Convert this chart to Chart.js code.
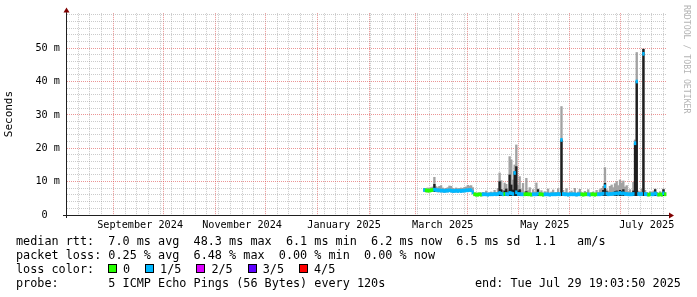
<!DOCTYPE html>
<html>
<head>
<meta charset="utf-8">
<title>SmokePing - last 360 days</title>
<script src="https://cdn.jsdelivr.net/npm/chart.js@4.4.1/dist/chart.umd.min.js"></script>
<style>
  body { margin: 0; background: #fff; }
  #wrap { position: relative; width: 697px; height: 297px; overflow: hidden; }
  #graph { position: absolute; left: 0; top: 0; }
  .txt { position: absolute; font-family: 'DejaVu Sans Mono', monospace; font-size: 11.8px; line-height: 14px; white-space: pre; color: #000; }
  .box { position: absolute; width: 7px; height: 7px; border: 1px solid #000; }
  #mark { position: absolute; left: 682px; top: 5px; font-family: 'DejaVu Sans Mono', monospace; font-size: 8.2px; line-height: 9px; color: #b4b4b4; writing-mode: vertical-rl; white-space: pre; }
</style>
</head>
<body>
<div id="wrap">
  <canvas id="graph" width="697" height="297"></canvas>
  <div id="mark">RRDTOOL / TOBI OETIKER</div>
</div>
<script>
// x axis in days counted from 1 Sep 2024 (graph = last 360 days up to 29 Jul 2025)
const monthStarts = [0, 30, 61, 91, 122, 153, 181, 212, 242, 273, 303];
const monthLabels = ['September 2024', 'November 2024', 'January 2025', 'March 2025', 'May 2025', 'July 2025'];
const labelDays = [16, 77, 138, 197, 258, 319];
const xFrom = -27.7, xTo = 331.1;

// y axis in milliseconds
const yMajor = [0, 10, 20, 30, 40, 50];
const yMajorText = ['0  ', '10 m', '20 m', '30 m', '40 m', '50 m'];
const yTop = 60.5;

// loss colours (smokeping defaults for 5 pings)
const lossLabels = ['0', '1/5', '2/5', '3/5', '4/5'];
const lossColors = ['#26ff00', '#00b8ff', '#dd00ff', '#5e00ff', '#ff0000'];

// one value per day, first one is day 186 (6 Mar 2025)
const firstDay = 186;
const rttMed = [
  7.5,7.4,7.3,7.3,7.4,7.5,7.6,7.5,7.4,7.4,
  7.3,7.3,7.2,7.3,7.3,7.4,7.3,7.2,7.2,7.3,
  7.2,7.3,7.2,7.3,7.3,7.4,7.4,7.5,7.4,6.8,
  6.2,6.1,6.1,6.2,6.1,6.2,6.2,6.2,6.1,6.2,
  6.2,6.2,6.3,6.2,6.3,6.6,6.4,6.2,6.3,6.3,
  6.2,6.6,6.5,6.3,12.6,6.8,6.3,6.3,6.2,6.2,
  6.2,6.3,6.2,6.2,6.1,6.2,6.2,6.2,6.4,6.2,
  6.2,6.1,6.2,6.2,6.2,6.1,6.2,6.2,6.2,6.2,
  6.3,6.2,22.5,6.3,6.2,6.2,6.1,6.2,6.2,6.2,
  6.2,6.1,6.2,6.2,6.2,6.1,6.2,6.2,6.2,6.1,
  6.2,6.2,6.1,6.2,6.2,6.2,6.3,6.4,8.6,6.4,
  6.2,6.3,6.3,6.4,6.4,6.5,6.4,6.6,6.4,6.5,
  6.3,6.3,6.2,6.2,6.2,6.3,21.5,40.0,6.3,6.2,
  6.3,48.3,6.3,6.2,6.1,6.2,6.2,6.2,6.5,6.2,
  6.1,6.2,6.1,6.5,6.2
];
const rttMax = [
  8.0,7.9,8.1,8.0,8.2,8.4,11.3,8.5,8.2,8.6,
  8.8,8.1,7.9,8.0,8.2,8.7,8.6,8.0,7.9,8.1,
  7.9,8.0,8.1,8.0,8.3,8.4,8.9,8.7,8.8,8.2,
  6.7,6.6,6.6,6.7,6.6,6.8,6.7,7.2,6.6,6.7,
  6.9,6.6,7.4,6.8,8.0,12.6,10.3,7.4,9.6,9.2,
  7.3,17.5,16.5,10.5,15.0,21.0,9.0,11.5,7.6,9.5,
  7.0,11.0,7.3,8.2,6.7,7.6,6.8,9.6,7.8,6.8,
  7.3,6.6,7.0,6.7,7.8,6.6,6.9,7.5,6.7,6.8,
  7.9,6.8,32.5,7.4,6.8,7.9,6.6,6.8,7.2,6.7,
  8.0,6.6,6.9,7.7,6.7,6.6,7.1,6.8,7.6,6.6,
  6.7,6.9,6.6,7.4,6.8,7.6,8.0,8.6,14.2,7.6,
  7.2,8.6,9.0,8.2,9.4,10.0,8.8,10.5,9.6,10.2,
  8.4,8.8,7.0,7.6,6.8,9.8,22.5,48.7,7.2,6.9,
  7.8,49.7,7.4,6.8,6.6,7.0,6.8,7.2,7.8,6.8,
  6.6,7.0,6.7,7.8,6.8
];
// top of the dark smoke, 0 where there is none
const rttCore = [
  0,0,0,0,0,0,9.2,0,0,0,
  0,0,0,0,0,0,0,0,0,0,
  0,0,0,0,0,0,0,0,0,0,
  0,0,0,0,0,0,0,0,0,0,
  0,0,0,0,0,10.0,7.6,0,7.2,7.8,
  0,12.0,9.0,7.5,13.0,14.5,7.2,7.6,0,0,
  0,7.0,0,0,0,0,0,0,7.6,0,
  0,0,0,0,0,0,0,0,0,0,
  0,0,22.5,0,0,0,0,0,0,0,
  0,0,0,0,0,0,0,0,0,0,
  0,0,0,0,0,0,0,7.4,9.5,7.0,
  0,0,0,0,7.0,7.2,0,7.4,7.0,7.6,
  0,0,0,0,0,7.2,21.5,40.0,0,0,
  0,49.7,0,0,0,0,0,0,7.6,0,
  0,0,0,7.6,0
];
const rttMin = [
  7.0,6.9,6.9,6.9,7.0,7.0,7.0,7.0,6.9,6.9,
  6.9,6.9,6.8,6.9,6.9,7.0,6.9,6.8,6.8,6.9,
  6.8,6.9,6.8,6.9,6.9,7.0,7.0,7.0,7.0,6.3,
  5.8,5.7,5.7,5.8,5.7,5.8,5.8,5.8,5.7,5.8,
  5.8,5.8,5.8,5.8,5.8,5.8,5.8,5.8,5.8,5.8,
  5.8,5.8,5.8,5.8,5.8,5.8,5.8,5.8,5.8,5.8,
  5.8,5.8,5.8,5.8,5.7,5.8,5.8,5.8,5.8,5.8,
  5.8,5.7,5.8,5.8,5.8,5.7,5.8,5.8,5.8,5.8,
  5.8,5.8,5.8,5.8,5.8,5.8,5.7,5.8,5.8,5.8,
  5.8,5.7,5.8,5.8,5.8,5.7,5.8,5.8,5.8,5.7,
  5.8,5.8,5.7,5.8,5.8,5.8,5.8,5.8,5.8,5.8,
  5.8,5.8,5.8,5.8,5.8,5.8,5.8,5.8,5.8,5.8,
  5.8,5.8,5.8,5.8,5.8,5.8,5.8,5.8,5.8,5.8,
  5.8,5.8,5.8,5.8,5.7,5.8,5.8,5.8,5.8,5.8,
  5.7,5.8,5.7,5.8,5.8
];
const lossIdx = [
  1,0,0,0,0,0,1,1,1,1,
  1,1,1,1,1,1,1,1,1,1,
  1,1,1,1,1,1,1,1,1,1,
  0,0,0,0,0,1,1,1,1,1,
  1,1,1,1,1,1,1,1,0,1,
  1,1,1,1,1,1,1,1,1,1,
  0,0,0,0,0,1,1,1,1,0,
  0,0,1,1,1,1,1,1,1,1,
  1,1,1,1,1,1,1,1,1,1,
  1,1,1,1,0,0,0,0,1,1,
  0,0,0,0,1,1,1,1,1,1,
  1,1,1,1,1,1,1,1,1,1,
  1,1,1,1,1,1,1,1,1,1,
  1,1,1,1,0,0,1,1,1,1,
  0,0,0,1,0
];

// legend texts
const statLines = [
  'median rtt:  7.0 ms avg  48.3 ms max  6.1 ms min  6.2 ms now  6.5 ms sd  1.1   am/s',
  'packet loss: 0.25 % avg  6.48 % max  0.00 % min  0.00 % now'
];
const probeText = 'probe:       5 ICMP Echo Pings (56 Bytes) every 120s';
const endText = 'end: Tue Jul 29 19:03:50 2025';

const days = rttMed.map((v, i) => firstDay + i);
const BAND = 0.45;

let smokeData = days.map((d, i) => ({x: d, y: [rttMin[i], rttMax[i]]}));
let coreData = [];
days.forEach((d, i) => { if (rttCore[i] > 0) coreData.push({x: d, y: [rttMin[i], rttCore[i]]}); });
let medData = days.map((d, i) => ({x: d, y: [rttMed[i] - BAND, rttMed[i] + BAND]}));
let medColors = lossIdx.map(k => lossColors[k]);

// weekly minor grid and 2 ms minor grid
let xWeeks = [];
for (let d = -21; d <= xTo; d += 7) {
  if (monthStarts.indexOf(d) == -1) xWeeks.push(d);
}
let yMinor = [];
for (let v = 2; v <= 60; v += 2) {
  if (yMajor.indexOf(v) == -1) yMinor.push(v);
}

const GRID = 'rgba(140,140,140,0.45)';
const MGRID = 'rgba(222,79,79,0.6)';
const tickFont = {family: 'DejaVu Sans Mono', size: 10.2};

// grid-only axis: draws lines at the given values, no labels, no space taken
function gridAxis(axis, min, max, values, color) {
  return {
    type: 'linear', axis: axis, position: axis == 'x' ? 'bottom' : 'left',
    min: min, max: max, offset: false,
    grid: {color: color, lineWidth: 1, drawTicks: false, offset: false},
    border: {display: false, dash: [1, 1]},
    ticks: {display: false, autoSkip: false},
    afterBuildTicks: s => { s.ticks = values.map(v => ({value: v})); },
    afterFit: s => { if (axis == 'x') s.height = 0; else s.width = 0; }
  };
}

const axisArrows = {
  id: 'axisArrows',
  afterDatasetsDraw(chart) {
    const ctx = chart.ctx, a = chart.chartArea;
    ctx.save();
    ctx.strokeStyle = '#1f1f1f';
    ctx.lineWidth = 1;
    ctx.beginPath();
    ctx.moveTo(a.left - 4, a.bottom + 0.5);
    ctx.lineTo(a.right + 2, a.bottom + 0.5);
    ctx.moveTo(a.left - 0.5, a.bottom + 3);
    ctx.lineTo(a.left - 0.5, a.top - 1);
    ctx.stroke();
    ctx.fillStyle = '#800000';
    ctx.beginPath();
    ctx.moveTo(a.right + 2, a.bottom - 2.5);
    ctx.lineTo(a.right + 7, a.bottom + 0.5);
    ctx.lineTo(a.right + 2, a.bottom + 3.5);
    ctx.fill();
    ctx.beginPath();
    ctx.moveTo(a.left - 3.5, a.top - 0.5);
    ctx.lineTo(a.left - 0.5, a.top - 5.5);
    ctx.lineTo(a.left + 2.5, a.top - 0.5);
    ctx.fill();
    ctx.restore();
  }
};

new Chart(document.getElementById('graph'), {
  type: 'bar',
  data: {
    datasets: [{
      label: 'median',
      data: medData,
      backgroundColor: medColors,
      order: 0
    }, {
      label: 'core',
      data: coreData,
      backgroundColor: '#1e1e1e',
      order: 1
    }, {
      label: 'smoke',
      data: smokeData,
      backgroundColor: '#a2a2a2',
      order: 2
    }]
  },
  options: {
    responsive: false,
    animation: false,
    devicePixelRatio: 1,
    layout: {padding: {left: 0, right: 30, top: 13, bottom: 0}},
    datasets: {
      bar: {grouped: false, barPercentage: 1, categoryPercentage: 1, borderWidth: 0}
    },
    plugins: {legend: {display: false}, tooltip: {enabled: false}},
    scales: {
      xWeek: gridAxis('x', xFrom, xTo, xWeeks, GRID),
      xMonth: gridAxis('x', xFrom, xTo, monthStarts, MGRID),
      yMinor: gridAxis('y', 0, yTop, yMinor, GRID),
      x: {
        type: 'linear',
        min: xFrom,
        max: xTo,
        offset: false,
        grid: {display: false, drawTicks: false},
        border: {display: false},
        ticks: {
          autoSkip: false, maxRotation: 0, minRotation: 0, padding: 4, color: '#000', font: tickFont,
          callback: (v, i) => monthLabels[i] || ''
        },
        afterBuildTicks: s => { s.ticks = labelDays.map(d => ({value: d})); },
        afterFit: s => { s.height = 82; }
      },
      y: {
        min: 0,
        max: yTop,
        grid: {color: MGRID, lineWidth: 1, drawTicks: false},
        border: {display: false, dash: [1, 1]},
        ticks: {
          autoSkip: false, padding: 7, color: '#000', font: tickFont,
          callback: (v, i) => yMajorText[i] || ''
        },
        title: {display: true, text: 'Seconds', color: '#000', font: {family: 'DejaVu Sans Mono', size: 11}, padding: {top: 3, bottom: 0}},
        afterBuildTicks: s => { s.ticks = yMajor.map(v => ({value: v})); },
        afterFit: s => { s.width = 67; }
      }
    }
  },
  plugins: [axisArrows]
});

// legend under the graph
const wrap = document.getElementById('wrap');
function addText(txt, left, top) {
  let el = document.createElement('div');
  el.className = 'txt';
  el.textContent = txt;
  el.style.left = left + 'px';
  el.style.top = top + 'px';
  wrap.appendChild(el);
  return el;
}
addText(statLines[0], 16, 234);
addText(statLines[1], 16, 248);
addText('loss color:', 16, 262);
let bx = 108;
lossLabels.forEach((lab, i) => {
  let b = document.createElement('div');
  b.className = 'box';
  b.style.left = bx + 'px';
  b.style.top = '264px';
  b.style.background = lossColors[i];
  wrap.appendChild(b);
  addText(lab, bx + 15, 262);
  bx = bx + 15 + lab.length * 7.1 + 15;
});
addText(probeText, 16, 276);
let endEl = addText(endText, 0, 276);
endEl.style.left = (681 - endEl.offsetWidth) + 'px';
</script>
</body>
</html>
